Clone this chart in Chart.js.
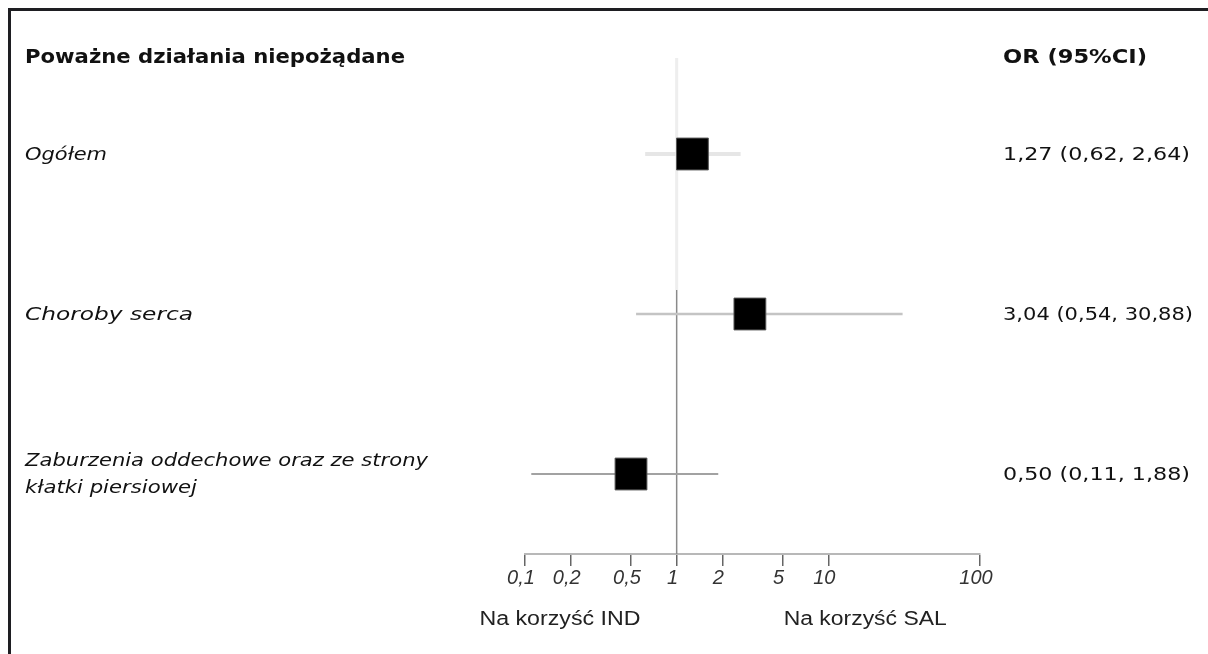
<!DOCTYPE html>
<html>
<head>
<meta charset="utf-8">
<script src="https://cdn.jsdelivr.net/npm/chart.js@4.4.0/dist/chart.umd.min.js"></script>
<style>
  html, body { margin: 0; padding: 0; background: #fff; }
  #wrap { width: 1208px; height: 654px; position: relative; }
</style>
</head>
<body>
<div id="wrap"><canvas id="forest" width="1208" height="654"></canvas></div>
<script>
// data
const headerLabel = 'Poważne działania niepożądane';
const headerValue = 'OR (95%CI)';
const rowLabels = [['Ogółem'], ['Choroby serca'], ['Zaburzenia oddechowe oraz ze strony', 'kłatki piersiowej']];
const orValues = [1.27, 3.04, 0.50];
const ciLow = [0.62, 0.54, 0.11];
const ciHigh = [2.64, 30.88, 1.88];
const valueLabels = ['1,27 (0,62, 2,64)', '3,04 (0,54, 30,88)', '0,50 (0,11, 1,88)'];
const tickValues = [0.1, 0.2, 0.5, 1, 2, 5, 10, 100];
const tickLabels = ['0,1', '0,2', '0,5', '1', '2', '5', '10', '100'];
const favourLabels = ['Na korzyść IND', 'Na korzyść SAL'];
const favourAt = [0.17, 17.5];

// looks
const ciColors = ['#e6e6e6', '#c4c4c4', '#a2a2a2'];
const ciWidths = [4, 2.5, 2];
const rowLabelWidths = [[82], [168], [403, 172]];
const valueWidths = [187, 190, 187];
const favourWidths = [161, 163];
const sansFont = '"DejaVu Sans", Verdana, sans-serif';
const arialFont = '"Liberation Sans", Arial, sans-serif';

const rows = orValues.map((v, i) => i + 1);

const datasets = [];
// faint upper part and darker lower part of the no-effect line
datasets.push({
  type: 'line', order: 3, data: [{ x: 1, y: 0.4 }, { x: 1, y: 1.85 }],
  borderColor: '#eeeeee', borderWidth: 3, pointRadius: 0
});
datasets.push({
  type: 'line', order: 2, data: [{ x: 1, y: 1.85 }, { x: 1, y: 3.5 }],
  borderColor: '#8a8a8a', borderWidth: 1.5, pointRadius: 0
});
rows.forEach((r, i) => {
  datasets.push({
    type: 'line', order: 1,
    data: [{ x: ciLow[i], y: r }, { x: ciHigh[i], y: r }],
    borderColor: ciColors[i], borderWidth: ciWidths[i], pointRadius: 0
  });
});
// squares on top
datasets.push({
  type: 'scatter', order: 0,
  data: orValues.map((v, i) => ({ x: v, y: rows[i] })),
  pointStyle: 'rect', pointRadius: 22.5, pointHoverRadius: 22.5,
  backgroundColor: '#000', borderColor: '#555', borderWidth: 1
});

function fitText(ctx, text, x, y, font, w, align) {
  ctx.save();
  ctx.font = font;
  const m = ctx.measureText(text).width;
  ctx.translate(x, y);
  ctx.scale(w / m, 1);
  ctx.textAlign = align || 'left';
  ctx.textBaseline = 'middle';
  ctx.fillText(text, 0, 0);
  ctx.restore();
}

const framePlugin = {
  id: 'frame',
  beforeDraw(chart) {
    const ctx = chart.ctx;
    ctx.save();
    ctx.fillStyle = '#fff';
    ctx.fillRect(0, 0, chart.width, chart.height);
    ctx.fillStyle = '#1e1e22';
    ctx.fillRect(8, 8, chart.width - 8, 3);
    ctx.fillRect(8, 8, 3, chart.height - 8);
    ctx.restore();
  },
  afterDraw(chart) {
    const ctx = chart.ctx;
    const ys = chart.scales.y;
    const xs = chart.scales.x;
    ctx.save();
    ctx.fillStyle = '#111';
    const hy = ys.getPixelForValue(0.4);
    fitText(ctx, headerLabel, 25, hy, 'bold 20px ' + sansFont, 380);
    fitText(ctx, headerValue, 1003, hy, 'bold 20px ' + sansFont, 144);
    rows.forEach((r, i) => {
      const py = ys.getPixelForValue(r) + 1;
      const lines = rowLabels[i];
      lines.forEach((t, k) => {
        const off = (k - (lines.length - 1) / 2) * 27;
        fitText(ctx, t, 25, py + off, 'italic 18px ' + sansFont, rowLabelWidths[i][k]);
      });
      fitText(ctx, valueLabels[i], 1003, py, '18px ' + sansFont, valueWidths[i]);
    });
    ctx.fillStyle = '#222';
    favourLabels.forEach((t, i) => {
      const px = xs.getPixelForValue(favourAt[i]);
      fitText(ctx, t, px, 619, '20px ' + arialFont, favourWidths[i], 'center');
    });
    ctx.restore();
  }
};

new Chart(document.getElementById('forest'), {
  data: { datasets: datasets },
  plugins: [framePlugin],
  options: {
    responsive: false,
    animation: false,
    devicePixelRatio: 1,
    layout: { padding: { left: 525, right: 228, top: 58, bottom: 0 } },
    plugins: { legend: { display: false }, tooltip: { enabled: false } },
    scales: {
      x: {
        type: 'logarithmic',
        min: 0.1, max: 100,
        afterBuildTicks: s => { s.ticks = tickValues.map(v => ({ value: v })); },
        afterFit: s => { s.height = 100; },
        grid: { drawOnChartArea: false, drawTicks: true, tickLength: 12, color: '#666', lineWidth: 1.5 },
        border: { display: true, color: '#b8b8b8', width: 2 },
        ticks: {
          autoSkip: false, maxRotation: 0, padding: 0, labelOffset: -4,
          color: '#333',
          font: { family: arialFont, size: 20, style: 'italic' },
          callback: (v, i) => tickLabels[i]
        }
      },
      y: {
        type: 'linear', reverse: true, min: 0.4, max: 3.5,
        display: false
      }
    }
  }
});
</script>
</body>
</html>
